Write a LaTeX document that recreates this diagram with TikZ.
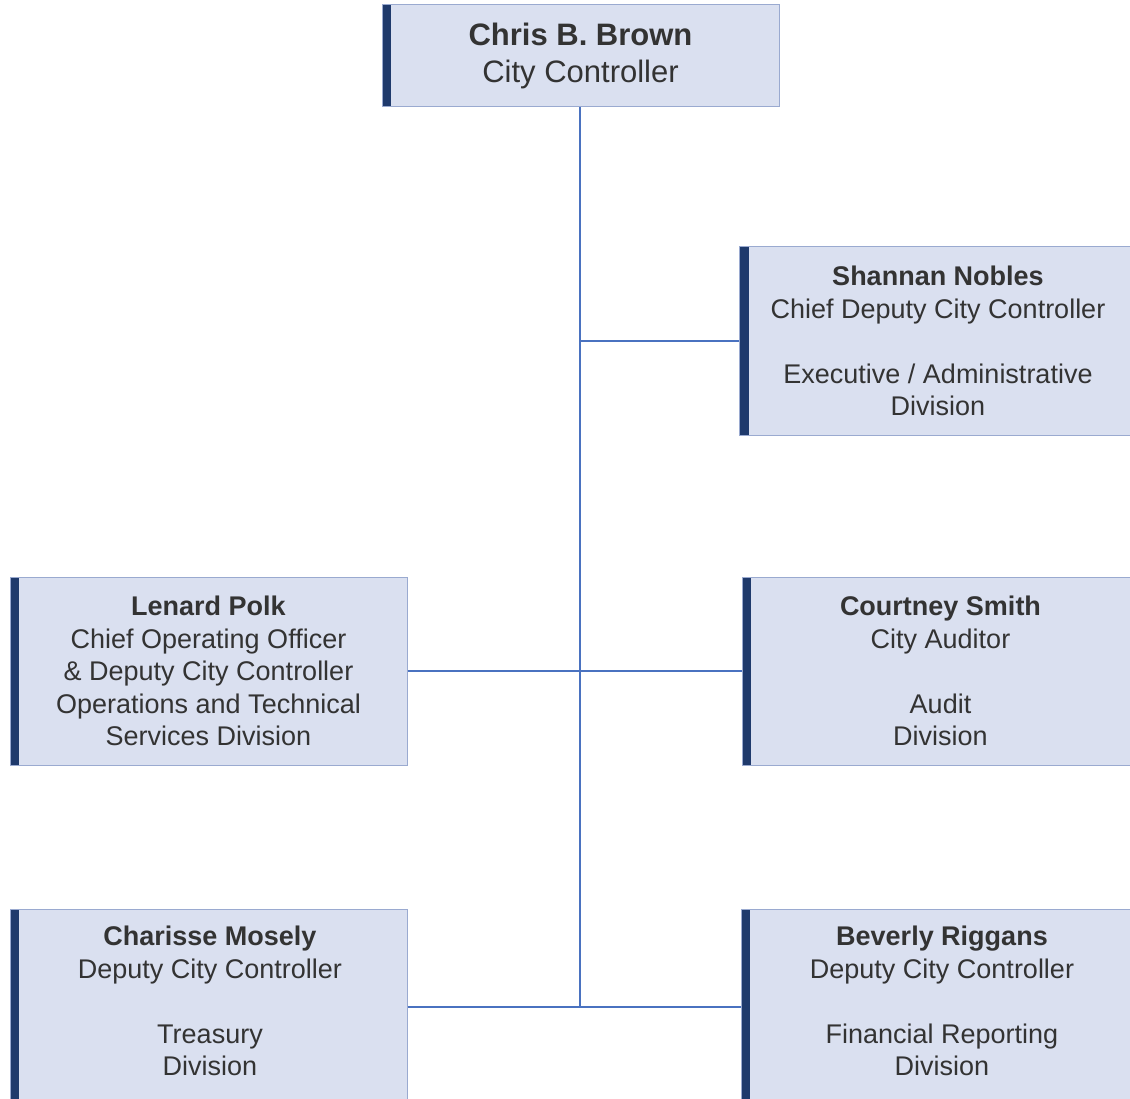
\documentclass[tikz,border=0pt]{standalone}
\usepackage{fontspec}
\setmainfont{Liberation Sans}
\definecolor{boxfill}{HTML}{DAE0F0}
\definecolor{boxline}{HTML}{9AAAD0}
\definecolor{darkbar}{HTML}{1F3A6C}
\definecolor{conn}{HTML}{4A72C0}
\definecolor{txtcol}{HTML}{333333}
\tikzset{
  orgbox/.style={draw=boxline, line width=1pt, fill=boxfill, inner sep=0pt,
    minimum width=397pt, align=center, text=txtcol,
    font=\fontsize{27}{32.4}\selectfont,
    path picture={\fill[darkbar] (path picture bounding box.north west) rectangle ([xshift=9pt]path picture bounding box.south west);}},
  orgtxt/.style={inner sep=0pt, align=center, text=txtcol, font=\fontsize{27}{32.4}\selectfont},
  link/.style={draw=conn, line width=2pt}
}
\begin{document}
\begin{tikzpicture}[x=1pt,y=-1pt]
\useasboundingbox (0,0) rectangle (1130,1099);
\fill[white] (0,0) rectangle (1130,1099);

\node[orgbox, minimum height=102pt, font=\fontsize{31}{37}\selectfont] (top) at (580.5,56)
  {\textbf{Chris B. Brown}\\City Controller};

\node[orgbox, minimum height=188pt] (shannan) at (938,341)
  {\textbf{Shannan Nobles}\\Chief Deputy City Controller\\[32.4pt]Executive / Administrative\\Division};

\node[orgbox, minimum height=188pt] (lenard) at (208.5,671)
  {\textbf{Lenard Polk}\\Chief Operating Officer\\\& Deputy City Controller\\Operations and Technical\\Services Division};

\node[orgbox, minimum height=188pt] (courtney) at (940.5,671)
  {\textbf{Courtney Smith}\\City Auditor\\[32.4pt]Audit\\Division};

\node[orgbox, minimum height=200pt] (charisse) at (208.5,1009) {};
\node[orgtxt] (charissetxt) at (210,1001)
  {\textbf{Charisse Mosely}\\Deputy City Controller\\[32.4pt]Treasury\\Division};

\node[orgbox, minimum height=200pt] (beverly) at (939.5,1009) {};
\node[orgtxt] (beverlytxt) at (942,1001)
  {\textbf{Beverly Riggans}\\Deputy City Controller\\[32.4pt]Financial Reporting\\Division};

\coordinate (spinebot) at (580,1007);
\coordinate (spinetop) at (580,107);
\draw[link] (spinetop) -- (spinebot);
\draw[link] (shannan.west) -- (shannan.west -| spinetop);
\draw[link] (lenard.east) -- (courtney.west);
\draw[link] (charisse.east |- spinebot) -- (beverly.west |- spinebot);
\end{tikzpicture}
\end{document}
